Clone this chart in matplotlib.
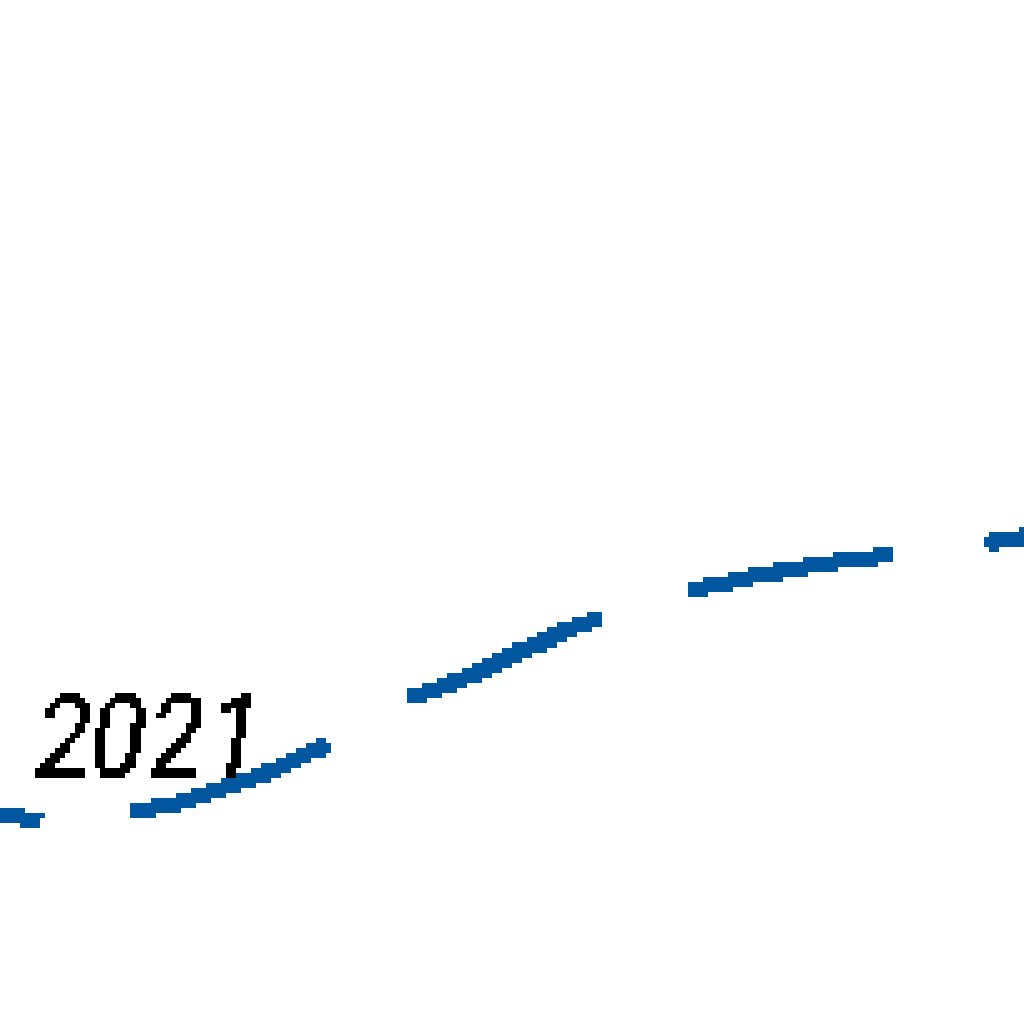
import numpy as np
import matplotlib
matplotlib.use('Agg')
import matplotlib.pyplot as plt

# series (x position, value)
x_vals = [0, 20, 42, 75, 105, 136, 173, 200, 230, 253, 277, 297, 317, 328, 370,
          410, 418, 448, 474, 494, 513, 537, 557, 582, 602, 645, 687, 722, 741,
          770, 796, 825, 859, 894, 940, 984, 999, 1024]
y_vals = [206, 206, 200, 196, 201, 211, 219, 227, 237, 245, 255, 265, 274, 279, 302,
          325, 329, 339, 349, 359, 369, 379, 389, 399, 402, 417, 432, 439, 444,
          449, 454, 459, 464, 467, 472, 478, 483, 486]
label_text = '2021'
label_x = 32
label_y = 250

line_color = '#0057a0'

plt.rcParams['lines.antialiased'] = False
plt.rcParams['text.antialiased'] = False
plt.rcParams['lines.scale_dashes'] = False

# draw small, then blow it up so it looks like the zoomed crop
scale = 5
small = 1024 / scale
fig1 = plt.figure(figsize=(small / 100, small / 100), dpi=100)
ax1 = fig1.add_axes([0, 0, 1, 1])
ax1.set_xlim(0, 1024)
ax1.set_ylim(0, 1024)
ax1.axis('off')

on = 201 / scale * 0.72
off = 96 / scale * 0.72
offset = (201 - 38) / scale * 0.72
ax1.plot(x_vals, y_vals, color=line_color, linewidth=2 * 0.72,
         linestyle=(offset, (on, off)), solid_capstyle='butt', dash_capstyle='butt')
ax1.text(label_x, label_y, label_text, ha='left', va='baseline', fontsize=17.6,
         style='italic', color='black', family='Roboto Condensed')

fig1.canvas.draw()
img = np.asarray(fig1.canvas.buffer_rgba()).copy()
plt.close(fig1)

fig = plt.figure(figsize=(10.24, 10.24), dpi=100)
ax = fig.add_axes([0, 0, 1, 1])
ax.imshow(img, interpolation='nearest', aspect='auto')
ax.axis('off')
fig.savefig('out.png', dpi=100)
